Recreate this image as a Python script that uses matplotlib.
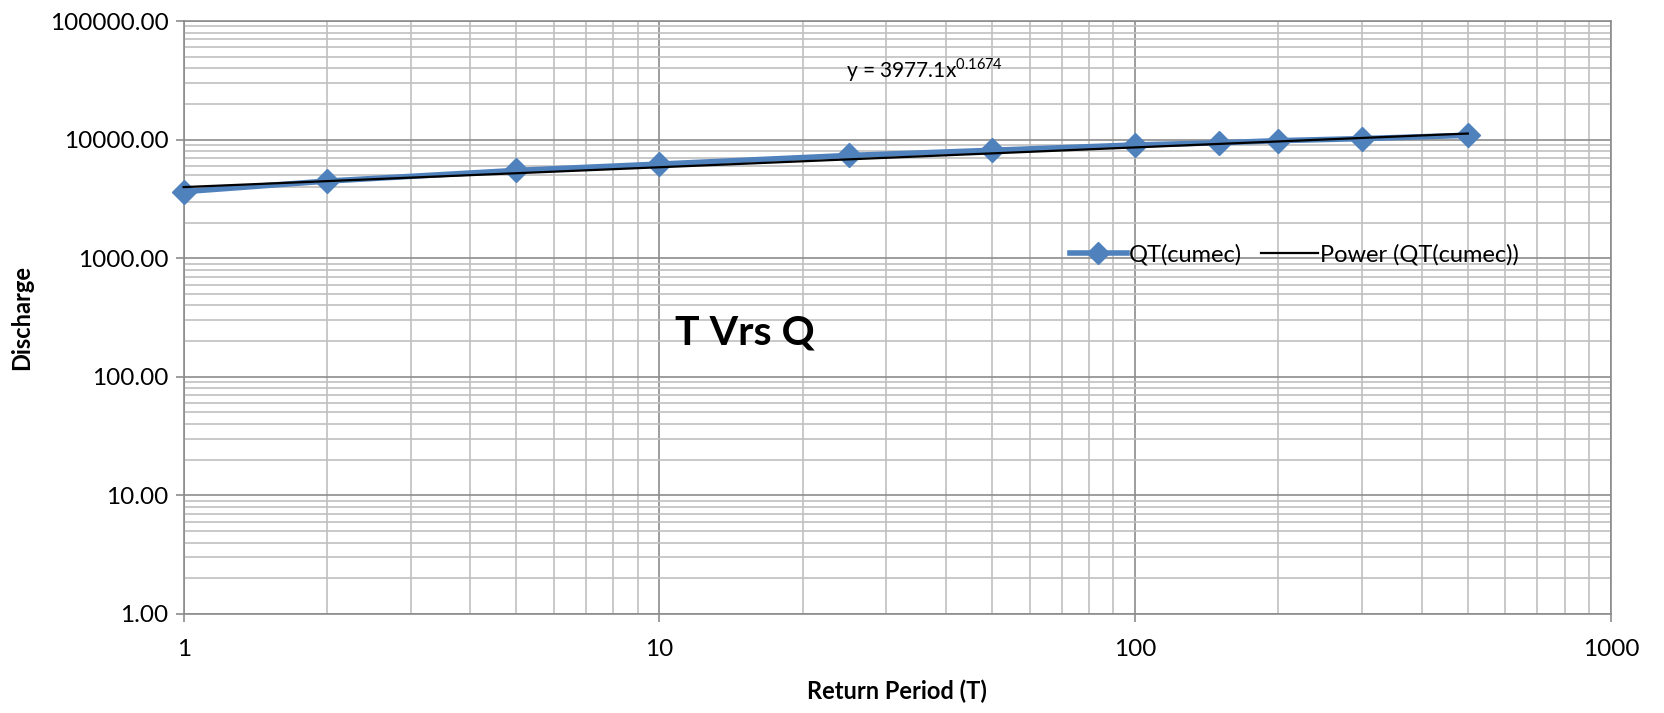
import matplotlib.pyplot as plt
import numpy as np
from matplotlib.ticker import LogLocator, FuncFormatter, NullFormatter

plt.rcParams['font.family'] = ['Lato', 'DejaVu Sans']

# data
return_period = [1, 2, 5, 10, 25, 50, 100, 150, 200, 300, 500]
discharge = [3640, 4470, 5500, 6220, 7350, 8130, 9020, 9400, 9800, 10200, 10870]

# power trend line reported on the chart
coef_a = 3977.1
coef_b = 0.1674

fig = plt.figure(figsize=(16.65, 7.13), dpi=100)
ax = fig.add_axes([0.1103, 0.1389, 0.8573, 0.8316])

ax.set_xscale('log')
ax.set_yscale('log')
ax.set_xlim(1, 1000)
ax.set_ylim(1, 100000)

grid_major = '#8c8c8c'
grid_minor = '#c0c0c0'
ax.xaxis.set_major_locator(LogLocator(base=10))
ax.yaxis.set_major_locator(LogLocator(base=10))
ax.xaxis.set_minor_locator(LogLocator(base=10, subs=np.arange(2, 10)))
ax.yaxis.set_minor_locator(LogLocator(base=10, subs=np.arange(2, 10)))
ax.xaxis.set_minor_formatter(NullFormatter())
ax.yaxis.set_minor_formatter(NullFormatter())
ax.xaxis.set_major_formatter(FuncFormatter(lambda v, p: f'{v:g}'))
ax.yaxis.set_major_formatter(FuncFormatter(lambda v, p: f'{v:.2f}'))

ax.grid(which='major', color=grid_major, linewidth=1.2)
ax.grid(which='minor', color=grid_minor, linewidth=1.2)
ax.set_axisbelow(True)
ax.tick_params(which='major', length=6, width=1.2, color=grid_major,
               labelsize=17.5, pad=5)
ax.tick_params(axis='x', which='major', pad=12)
ax.tick_params(which='minor', length=0)
for s in ax.spines.values():
    s.set_color(grid_major)
    s.set_linewidth(1.2)

ax.plot(return_period, discharge, color='#4f81bd', linewidth=4,
        marker='D', markersize=12, label='QT(cumec)', zorder=3, clip_on=False)

fit_x = np.geomspace(return_period[0], return_period[-1], 50)
ax.plot(fit_x, coef_a * fit_x ** coef_b, color='black', linewidth=1.6,
        label='Power (QT(cumec))', zorder=4, clip_on=False)

ax.text(0.464, 0.905, r'y = 3977.1x$^{\mathregular{0.1674}}$', transform=ax.transAxes,
        fontsize=15)
ax.text(0.3445, 0.455, 'T Vrs Q', transform=ax.transAxes,
        fontsize=29.5, fontweight='bold')

ax.set_xlabel('Return Period (T)', fontsize=17, fontweight='bold', labelpad=14)
ax.set_ylabel('Discharge', fontsize=17, fontweight='bold', labelpad=12)

ax.legend(loc='center left', bbox_to_anchor=(0.606, 0.606), frameon=False,
          fontsize=17, ncol=2, handlelength=2.4, columnspacing=0.8,
          handletextpad=0.1, markerscale=0.9)

fig.savefig('out.png', dpi=100)
